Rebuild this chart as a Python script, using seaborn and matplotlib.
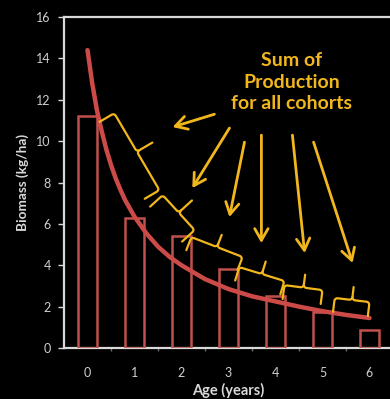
import numpy as np
import matplotlib
matplotlib.use("Agg")
import matplotlib.pyplot as plt
import seaborn as sns

# Standing-stock biomass of each cohort (kg/ha) by age class
ages = [0, 1, 2, 3, 4, 5, 6]
biomass = [11.2, 6.3, 5.4, 3.8, 2.5, 1.75, 0.85]

# Smooth biomass-at-age curve traced through the cohorts
curve_age = [0.0, 0.1, 0.2, 0.3, 0.4, 0.5, 0.6, 0.7, 0.8, 0.9, 1.0, 1.25, 1.5,
             1.75, 2.0, 2.5, 3.0, 3.5, 4.0, 4.5, 5.0, 5.5, 6.0]
curve_biomass = [14.4, 12.8, 11.5, 10.5, 9.6, 8.85, 8.2, 7.65, 7.15, 6.75, 6.35,
                 5.55, 4.9, 4.4, 4.0, 3.33, 2.85, 2.5, 2.25, 2.0, 1.78, 1.6, 1.45]

# Production intervals between successive cohorts (brace ends, data units)
brace_x0 = [0.57, 1.60, 2.21, 3.23, 4.19, 5.26]
brace_y0 = [11.35, 7.39, 5.36, 3.91, 3.04, 2.42]
brace_x1 = [1.53, 2.28, 3.30, 4.19, 5.00, 6.00]
brace_y1 = [7.63, 5.70, 4.40, 3.24, 2.80, 2.22]

# Arrows from the caption to each production interval
arrow_tail_x = [2.70, 3.02, 3.34, 3.70, 4.36, 4.81]
arrow_tail_y = [11.30, 10.63, 9.95, 10.29, 10.29, 9.95]
arrow_head_x = [1.81, 2.23, 3.02, 3.70, 4.62, 5.64]
arrow_head_y = [10.68, 7.73, 6.33, 5.07, 4.59, 4.11]

caption_lines = ["Sum of", "Production", "for all cohorts"]
y_ticks = [0, 2, 4, 6, 8, 10, 12, 14, 16]
x_label = "Age (years)"
y_label = "Biomass (kg/ha)"

BG = "#000000"
AXIS = "#d9d9d9"
TICKTXT = "#cfcfcf"
RED = "#c0504d"
CURVE = "#cc4a48"
GOLD = "#f2b71c"

sns.set_theme(style="ticks", rc={
    "figure.facecolor": BG,
    "axes.facecolor": BG,
    "savefig.facecolor": BG,
})
plt.rcParams["font.family"] = ["Lato", "DejaVu Sans"]

W, H = 390, 399
fig = plt.figure(figsize=(W / 100, H / 100), dpi=100)
ax = fig.add_axes([64 / W, 51 / H, 329 / W, 331 / H])
ax.set_facecolor(BG)

sns.barplot(x=ages, y=biomass, native_scale=True, width=0.42, fill=False,
            color=RED, saturation=1, linewidth=1.8, errorbar=None, ax=ax,
            zorder=2)
sns.lineplot(x=curve_age, y=curve_biomass, color=CURVE, linewidth=3.2, ax=ax,
             zorder=3)

ax.set_xlim(-0.5, 6.5)
ax.set_ylim(0, 16)

for side in ["left", "bottom", "top", "right"]:
    ax.spines[side].set_visible(True)
    ax.spines[side].set_color(AXIS)
    ax.spines[side].set_linewidth(1.6)
    ax.spines[side].set_zorder(1)

ax.set_yticks(y_ticks)
ax.set_yticklabels([str(t) for t in y_ticks])
ax.set_xticks(ages)
ax.set_xticklabels([str(a) for a in ages])
ax.set_xticks([a + 0.5 for a in ages[:-1]], minor=True)
ax.tick_params(axis="y", colors=AXIS, labelcolor=TICKTXT, length=4.5,
               width=1, labelsize=9, pad=5)
ax.tick_params(axis="x", which="major", length=0, labelcolor=TICKTXT,
               labelsize=9, pad=13.5)
ax.tick_params(axis="x", which="minor", length=2.5, width=1, color="#6a6a6a")

ax.set_xlabel(x_label, fontsize=10.5, fontweight="bold", color=AXIS)
ax.set_ylabel(y_label, fontsize=9.8, fontweight="bold", color=AXIS)
ax.xaxis.set_label_coords(0.5, -0.105)
ax.yaxis.set_label_coords(-0.105, 0.5)
ax.grid(False)


def _arc(cx, cy, r, a0, a1, k=6):
    a = np.linspace(np.radians(a0), np.radians(a1), k)
    return np.column_stack([cx + r * np.cos(a), cy + r * np.sin(a)])


def draw_brace(ax, x0, y0, x1, y1, cap=15.0, tip=13.0, r=3.0):
    """Curly bracket between two data points, caps toward the curve."""
    to_px = ax.transData.transform
    to_data = ax.transData.inverted().transform
    p = to_px((x0, y0))
    q = to_px((x1, y1))
    d = q - p
    L = np.hypot(*d)
    u = d / L
    n = np.array([-u[1], u[0]])
    h = L / 2
    # local frame: s along the interval, t outward (away from the curve)
    local = np.vstack([
        [[-0.0, -cap]],
        _arc(r, -r, r, 180, 90),
        _arc(h - r, r, r, 270, 360),
        [[h, tip]],
        [[h, r]],
        _arc(h + r, r, r, 180, 270),
        _arc(L - r, -r, r, 90, 0),
        [[L, -cap]],
    ])
    # first piece runs to the tip, second starts back at the tip base
    k = 1 + 6 + 6 + 1
    pieces = [local[:k], local[k:]]
    for piece in pieces:
        px = p + np.outer(piece[:, 0], u) + np.outer(piece[:, 1], n)
        pts = to_data(px)
        ax.plot(pts[:, 0], pts[:, 1], color=GOLD, lw=1.6,
                solid_capstyle="round", solid_joinstyle="round", zorder=4)


for i in range(len(brace_x0)):
    draw_brace(ax, brace_x0[i], brace_y0[i], brace_x1[i], brace_y1[i],
               cap=17 if i < 2 else 14, tip=18 if i < 2 else 13)

for tx, ty, hx, hy in zip(arrow_tail_x, arrow_tail_y, arrow_head_x, arrow_head_y):
    ax.annotate("", xy=(hx, hy), xytext=(tx, ty),
                arrowprops=dict(arrowstyle="->,head_length=0.7,head_width=0.4",
                                color=GOLD, lw=2.0, shrinkA=0, shrinkB=0),
                zorder=5)

ax.text(4.34, 12.85, "\n".join(caption_lines), ha="center", va="center",
        fontsize=14, fontweight="bold", color=GOLD, linespacing=1.3, zorder=5)

fig.savefig("out.png", dpi=100, facecolor=BG)
